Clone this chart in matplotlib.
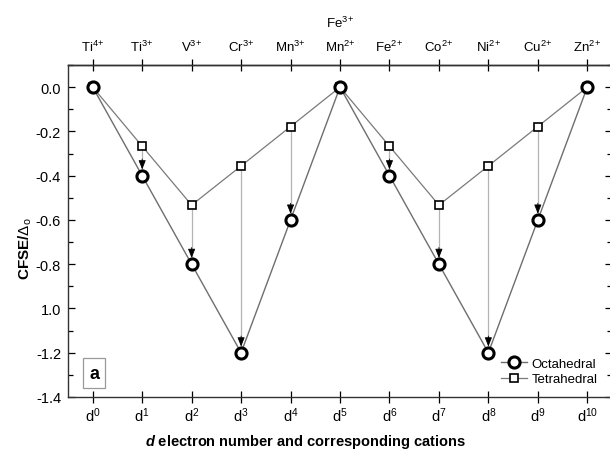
import numpy as np
import matplotlib
matplotlib.use('Agg')
import matplotlib.pyplot as plt
from matplotlib.ticker import MultipleLocator

plt.rcParams['font.family'] = ['Liberation Sans', 'DejaVu Sans']
plt.rcParams['mathtext.fontset'] = 'custom'
plt.rcParams['mathtext.rm'] = 'Liberation Sans'
plt.rcParams['mathtext.it'] = 'Liberation Sans:italic'
plt.rcParams['mathtext.bf'] = 'Liberation Sans:bold'
plt.rcParams['mathtext.bfit'] = 'Liberation Sans:bold:italic'

# d electron count
d_num = np.arange(0, 11)
d_labels = [r'd$^{%d}$' % n for n in d_num]
cations = [r'Ti$^{4\!+}$', r'Ti$^{3\!+}$', r'V$^{3\!+}$', r'Cr$^{3\!+}$', r'Mn$^{3\!+}$',
           'Fe$^{3\\!+}$\nMn$^{2\\!+}$', r'Fe$^{2\!+}$', r'Co$^{2\!+}$', r'Ni$^{2\!+}$',
           r'Cu$^{2\!+}$', r'Zn$^{2\!+}$']
# CFSE in units of delta_o
octa = [0.0, -0.4, -0.8, -1.2, -0.6, 0.0, -0.4, -0.8, -1.2, -0.6, 0.0]
tetra = [0.0, -0.267, -0.533, -0.356, -0.178, 0.0, -0.267, -0.533, -0.356, -0.178, 0.0]
ytick_vals = [-1.4, -1.2, -1.0, -0.8, -0.6, -0.4, -0.2, 0.0]
ytick_text = ['-1.4', '-1.2', '1.0', '-0.8', '-0.6', '-0.4', '-0.2', '0.0']

fig = plt.figure(figsize=(6.1, 4.56), dpi=100)
ax = fig.add_axes([68/610, 58/456, 544/610, 332/456])

# vertical arrows tetra -> octa
for x, t, o in zip(d_num, tetra, octa):
    if abs(t - o) < 1e-6:
        continue
    ax.plot([x, x], [t, o], color='#b4b4b4', lw=0.9, zorder=1)
    ax.annotate('', xy=(x, o), xytext=(0, 12), textcoords='offset points',
                arrowprops=dict(arrowstyle='-|>,head_length=0.55,head_width=0.22',
                                color='black', lw=0.6, shrinkA=0, shrinkB=4.5),
                zorder=3)

ax.plot(d_num, tetra, color='#7a7a7a', lw=0.9, marker='s', ms=6,
        mfc='white', mec='black', mew=1.2, label='Tetrahedral', zorder=2)
ax.plot(d_num, octa, color='#6e6e6e', lw=1.0, marker='o', ms=8,
        mfc='white', mec='black', mew=2.2, label='Octahedral', zorder=4)

ax.set_xlim(-0.5, 10.5)
ax.set_ylim(-1.4, 0.1)
ax.set_xticks(d_num)
ax.set_xticklabels(d_labels, fontsize=10.5)
ax.set_yticks(ytick_vals)
ax.set_yticklabels(ytick_text, fontsize=10.5)
ax.yaxis.set_minor_locator(MultipleLocator(0.1))
ax.tick_params(axis='y', which='major', direction='in', length=5, width=0.9,
               right=True, pad=5)
ax.tick_params(axis='y', which='minor', direction='in', length=3.5, width=0.9,
               right=True)
ax.tick_params(axis='x', direction='inout', length=8, width=0.9, pad=2)
for s in ax.spines.values():
    s.set_linewidth(1.0)
    s.set_color('#333333')

top = ax.secondary_xaxis('top')
top.set_xticks(d_num)
top.set_xticklabels(cations, fontsize=9.5)
top.tick_params(direction='inout', length=8, width=0.9, pad=4)
top.spines['top'].set_linewidth(1.0)
for lab in top.get_xticklabels():
    lab.set_linespacing(1.7)

ax.set_xlabel(r'$\mathbfit{d}$ electron number and corresponding cations',
              fontsize=10.5, fontweight='bold')
ax.xaxis.set_label_coords(0.436, -0.105)
ax.set_ylabel(r'CFSE/$\Delta_\mathrm{o}$', fontsize=11, fontweight='bold')
ax.yaxis.set_label_coords(-0.062, 0.45)

h, l = ax.get_legend_handles_labels()
ax.legend(h[::-1], l[::-1], loc='lower right', bbox_to_anchor=(0.995, 0.0),
          frameon=False, fontsize=9.5, handlelength=2.0, handletextpad=0.3,
          labelspacing=0.25)

ax.text(0.048, 0.072, 'a', transform=ax.transAxes, fontsize=13, fontweight='bold',
        ha='center', va='center',
        bbox=dict(boxstyle='square,pad=0.35', fc='white', ec='#999999', lw=0.9))

fig.savefig('out.png', dpi=100)
